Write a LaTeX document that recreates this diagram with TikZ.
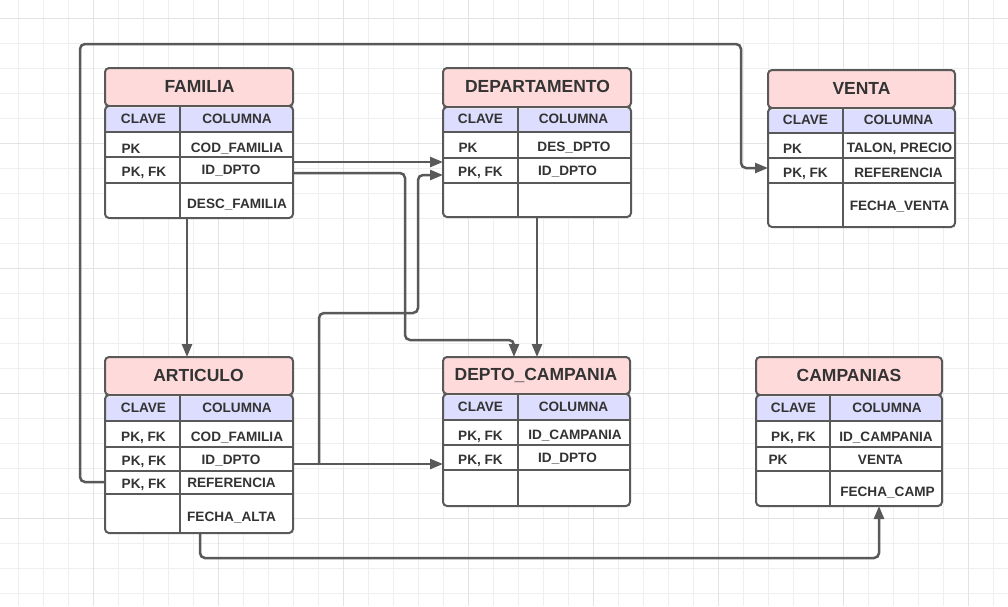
\documentclass[tikz,border=0pt]{standalone}
\usepackage{fontspec}
\setmainfont{Liberation Sans}
\usetikzlibrary{arrows.meta,fit}
\definecolor{titlecol}{HTML}{FFDADA}
\definecolor{headcol}{HTML}{DDDDFF}
\definecolor{lncol}{HTML}{595959}
\definecolor{txtcol}{HTML}{333333}
\definecolor{gridminor}{HTML}{EFEFEF}
\definecolor{gridmajor}{HTML}{E3E3E3}
\tikzset{
  tline/.style={draw=lncol, line width=2},
  tbox/.style={draw=lncol, line width=2, rounded corners=4},
  tfit/.style={inner sep=0pt, outer sep=0pt},
  ttl/.style={anchor=base, text=txtcol, inner sep=0pt, font=\fontsize{17.5}{19}\selectfont\bfseries},
  cell/.style={anchor=base, text=txtcol, inner sep=0pt, font=\fontsize{13.6}{15}\selectfont\bfseries},
  conn/.style={draw=lncol, line width=2.5, rounded corners=5, -{Triangle[length=13,width=10]}},
}
% #1 name #2 left #3 top #4 right #5 bottom #6 title bottom #7 header bottom #8 column x #9 row lines
\newcommand\ertab[9]{%
  \fill[titlecol, rounded corners=4] (#2,#3) rectangle (#4,#6);
  \draw[tbox] (#2,#3) rectangle (#4,#6);
  \fill[white, rounded corners=4] (#2,#6) rectangle (#4,#5);
  \fill[headcol] (#2,#6+2) rectangle (#4,#7);
  \foreach \yy in {#9} \draw[tline] (#2,\yy) -- (#4,\yy);
  \draw[tline] (#2,#7) -- (#4,#7);
  \draw[tline] (#8,#6) -- (#8,#5);
  \draw[tbox] (#2,#6) rectangle (#4,#5);
  \node[tfit, fit={(#2,#3) (#4,#5)}] (#1) {};
}
\begin{document}
\begin{tikzpicture}[x=1pt,y=-1pt]
\useasboundingbox (0,0) rectangle (1008,606);
\fill[white] (0,0) rectangle (1008,606);
\foreach \x in {18,43,...,1008} \draw[gridminor, line width=1] (\x,0) -- (\x,606);
\foreach \y in {18,43,...,606} \draw[gridminor, line width=1] (0,\y) -- (1008,\y);
\foreach \x in {93,218,...,1008} \draw[gridmajor, line width=1] (\x,0) -- (\x,606);
\foreach \y in {18,143,...,606} \draw[gridmajor, line width=1] (0,\y) -- (1008,\y);

% tables
\ertab{fam}{105}{68}{293}{218}{106}{132}{180}{157,183}
\ertab{dep}{443}{68}{631}{217}{107}{132}{518}{158,183}
\ertab{ven}{768}{70}{955}{227}{108}{133}{843}{158,183}
\ertab{art}{105}{357}{293}{533}{395}{421}{180}{447,471,494}
\ertab{dc}{443}{357}{630}{506}{394}{420}{518}{445,470}
\ertab{cam}{756}{357}{942}{506}{395}{421}{830}{447,471}

% FAMILIA
\node[ttl] (famt) at (199.5,92.5) {FAMILIA};
\node[cell] (famh1) at (143.5,123) {CLAVE};
\node[cell] (famh2) at (237,123) {COLUMNA};
\node[cell] (famk1) at (131,153) {PK};
\node[cell] (famc1) at (237,152) {COD\_FAMILIA};
\node[cell] (famk2) at (144,176.5) {PK, FK};
\node[cell] (famc2) at (231,174.5) {ID\_DPTO};
\node[cell] (famc3) at (237,208) {DESC\_FAMILIA};

% DEPARTAMENTO
\node[ttl] (dept) at (537.5,92) {DEPARTAMENTO};
\node[cell] (deph1) at (480.5,123) {CLAVE};
\node[cell] (deph2) at (573.5,123) {COLUMNA};
\node[cell] (depk1) at (468,152) {PK};
\node[cell] (depc1) at (574,151.5) {DES\_DPTO};
\node[cell] (depk2) at (480.5,176.5) {PK, FK};
\node[cell] (depc2) at (567.5,175) {ID\_DPTO};

% VENTA
\node[ttl] (vent) at (861.5,94) {VENTA};
\node[cell] (venh1) at (805.5,124) {CLAVE};
\node[cell] (venh2) at (898.5,124) {COLUMNA};
\node[cell] (venk1) at (792.5,153) {PK};
\node[cell] (venc1) at (899.5,152) {TALON, PRECIO};
\node[cell] (venk2) at (805.5,177.5) {PK, FK};
\node[cell] (venc2) at (898.5,177) {REFERENCIA};
\node[cell] (venc3) at (899.5,210) {FECHA\_VENTA};

% ARTICULO
\node[ttl] (artt) at (198.5,381) {ARTICULO};
\node[cell] (arth1) at (143.5,412) {CLAVE};
\node[cell] (arth2) at (237,412) {COLUMNA};
\node[cell] (artk1) at (143.5,441.5) {PK, FK};
\node[cell] (artc1) at (237,441) {COD\_FAMILIA};
\node[cell] (artk2) at (144,465.5) {PK, FK};
\node[cell] (artc2) at (231,464) {ID\_DPTO};
\node[cell] (artk3) at (144,488) {PK, FK};
\node[cell] (artc3) at (231.5,487) {REFERENCIA};
\node[cell] (artc4) at (231.5,521) {FECHA\_ALTA};

% DEPTO_CAMPANIA
\node[ttl] (dct) at (536,380) {DEPTO\_CAMPANIA};
\node[cell] (dch1) at (480.5,411) {CLAVE};
\node[cell] (dch2) at (573.5,411) {COLUMNA};
\node[cell] (dck1) at (480.5,440) {PK, FK};
\node[cell] (dcc1) at (575,439.5) {ID\_CAMPANIA};
\node[cell] (dck2) at (480.5,464) {PK, FK};
\node[cell] (dcc2) at (567.5,462) {ID\_DPTO};

% CAMPANIAS
\node[ttl] (camt) at (849,381) {CAMPANIAS};
\node[cell] (camh1) at (793.5,412) {CLAVE};
\node[cell] (camh2) at (887,412) {COLUMNA};
\node[cell] (camk1) at (793.5,441.5) {PK, FK};
\node[cell] (camc1) at (886,441) {ID\_CAMPANIA};
\node[cell] (camk2) at (778,464) {PK};
\node[cell] (camc2) at (880.5,464) {VENTA};
\node[cell] (camc3) at (887.5,496.5) {FECHA\_CAMP};

% connectors
\coordinate (split) at (319,464);
\draw[conn] (fam.east |- 0,162) -- (dep.west |- 0,162);
\draw[conn] (fam.east |- 0,173) -- (405,173) -- (405,340) -- (514,340) -- (dc.north -| 514,0);
\draw[conn] (art.east |- 0,464) -- (dc.west |- 0,464);
\draw[conn] (split) -- (319,313) -- (418,313) -- (418,175) -- (dep.west |- 0,175);
\draw[conn] (fam.south -| 187,0) -- (art.north -| 187,0);
\draw[conn] (dep.south -| 537,0) -- (dc.north -| 537,0);
\draw[conn] (art.west |- 0,482) -- (80,482) -- (80,44) -- (741,44) -- (741,168) -- (ven.west |- 0,168);
\draw[conn] (art.south -| 200,0) -- (200,558) -- (879,558) -- (cam.south -| 879,0);
\end{tikzpicture}
\end{document}
